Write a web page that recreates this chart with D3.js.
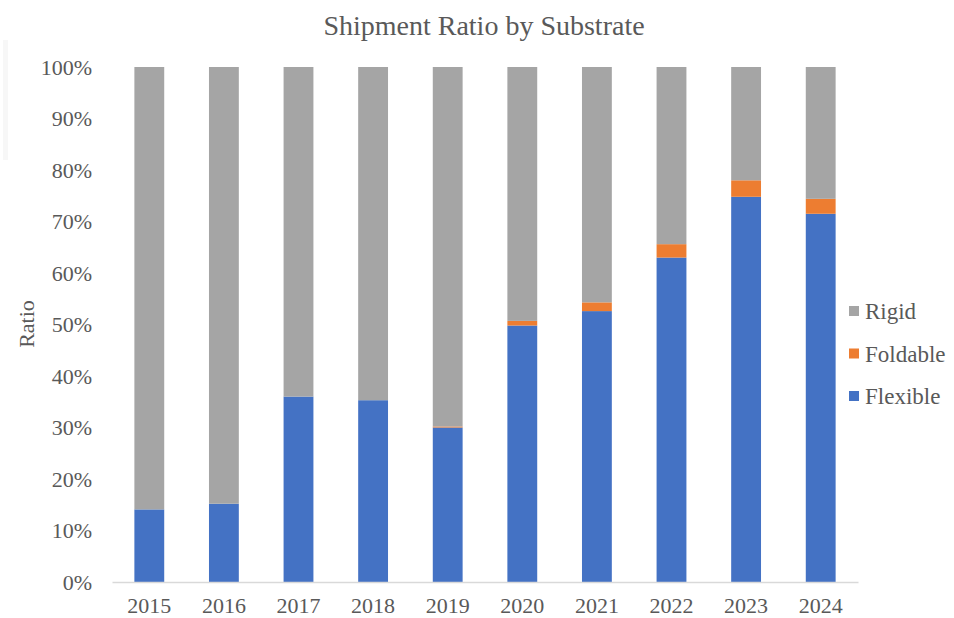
<!DOCTYPE html>
<html>
<head>
<meta charset="utf-8">
<script src="https://cdn.jsdelivr.net/npm/d3@7"></script>
<style>
  body { margin: 0; background: #fff; }
</style>
</head>
<body>
<div id="chart"></div>
<script>
// data
var years = ["2015", "2016", "2017", "2018", "2019", "2020", "2021", "2022", "2023", "2024"];
var flexible = [14.1, 15.2, 36.0, 35.3, 30.0, 49.8, 52.6, 63.0, 74.8, 71.5];
var foldable = [0, 0, 0, 0, 0.2, 0.9, 1.7, 2.6, 3.2, 2.9];
var rigid = years.map((y, i) => 100 - flexible[i] - foldable[i]);
var yTicks = [0, 10, 20, 30, 40, 50, 60, 70, 80, 90, 100];

var seriesNames = ["Flexible", "Foldable", "Rigid"];
var colors = { Flexible: "#4472c4", Foldable: "#ed7d31", Rigid: "#a5a5a5" };

var serif = "'Liberation Serif', 'Times New Roman', serif";
var textColor = "#595959";

var svgWidth = 954;
var svgHeight = 618;
var margin = { top: 67, right: 96, bottom: 36, left: 112 };
var width = svgWidth - margin.left - margin.right;
var height = svgHeight - margin.top - margin.bottom;

var svg = d3.select("#chart")
  .append("svg")
  .attr("width", svgWidth)
  .attr("height", svgHeight)
  .style("font-family", serif);

// faint artifact strip at the left edge
svg.append("rect")
  .attr("x", 3).attr("y", 40).attr("width", 5).attr("height", 120)
  .attr("fill", "#f7f7f7");

var chartGroup = svg.append("g")
  .attr("transform", `translate(${margin.left}, ${margin.top})`);

var table = years.map((y, i) => ({ year: y, Flexible: flexible[i], Foldable: foldable[i], Rigid: rigid[i] }));
var stacked = d3.stack().keys(seriesNames)(table);

var xScale = d3.scaleBand()
  .domain(years)
  .range([0, width])
  .paddingInner(0.6)
  .paddingOuter(0.3);

var yScale = d3.scaleLinear()
  .domain([0, 100])
  .range([height, 0]);

// bars
chartGroup.selectAll("g.series")
  .data(stacked)
  .enter()
  .append("g")
  .attr("class", "series")
  .attr("fill", d => colors[d.key])
  .selectAll("rect")
  .data(d => d)
  .enter()
  .append("rect")
  .attr("x", d => xScale(d.data.year))
  .attr("y", d => yScale(d[1]))
  .attr("width", xScale.bandwidth())
  .attr("height", d => yScale(d[0]) - yScale(d[1]));

// x axis
var bottomAxis = d3.axisBottom(xScale).tickSize(0).tickPadding(15);
var xAxis = chartGroup.append("g")
  .attr("transform", `translate(0, ${height})`)
  .call(bottomAxis)
  .attr("font-family", serif)
  .attr("font-size", 22);
xAxis.select(".domain").attr("stroke", "#d9d9d9").attr("stroke-width", 1.5);
xAxis.selectAll("text").attr("fill", textColor);

// y axis
var leftAxis = d3.axisLeft(yScale)
  .tickValues(yTicks)
  .tickSize(0)
  .tickPadding(20)
  .tickFormat(d => d + "%");
var yAxis = chartGroup.append("g")
  .call(leftAxis)
  .attr("font-family", serif)
  .attr("font-size", 22);
yAxis.select(".domain").remove();
yAxis.selectAll("text").attr("fill", textColor);

// title
svg.append("text")
  .attr("x", 484)
  .attr("y", 35)
  .attr("text-anchor", "middle")
  .attr("fill", textColor)
  .style("font-size", "28px")
  .text("Shipment Ratio by Substrate");

// y label
svg.append("text")
  .attr("transform", "translate(34, 324) rotate(-90)")
  .attr("text-anchor", "middle")
  .attr("fill", textColor)
  .style("font-size", "22px")
  .text("Ratio");

// legend
var legendNames = ["Rigid", "Foldable", "Flexible"];
var legend = svg.selectAll("g.legend")
  .data(legendNames)
  .enter()
  .append("g")
  .attr("class", "legend")
  .attr("transform", (d, i) => `translate(849, ${311 + i * 42.5})`);

legend.append("rect")
  .attr("x", 0).attr("y", -5)
  .attr("width", 10).attr("height", 10)
  .attr("fill", d => colors[d]);

legend.append("text")
  .attr("x", 16)
  .attr("dy", "0.35em")
  .attr("fill", textColor)
  .style("font-size", "23px")
  .text(d => d);
</script>
</body>
</html>
